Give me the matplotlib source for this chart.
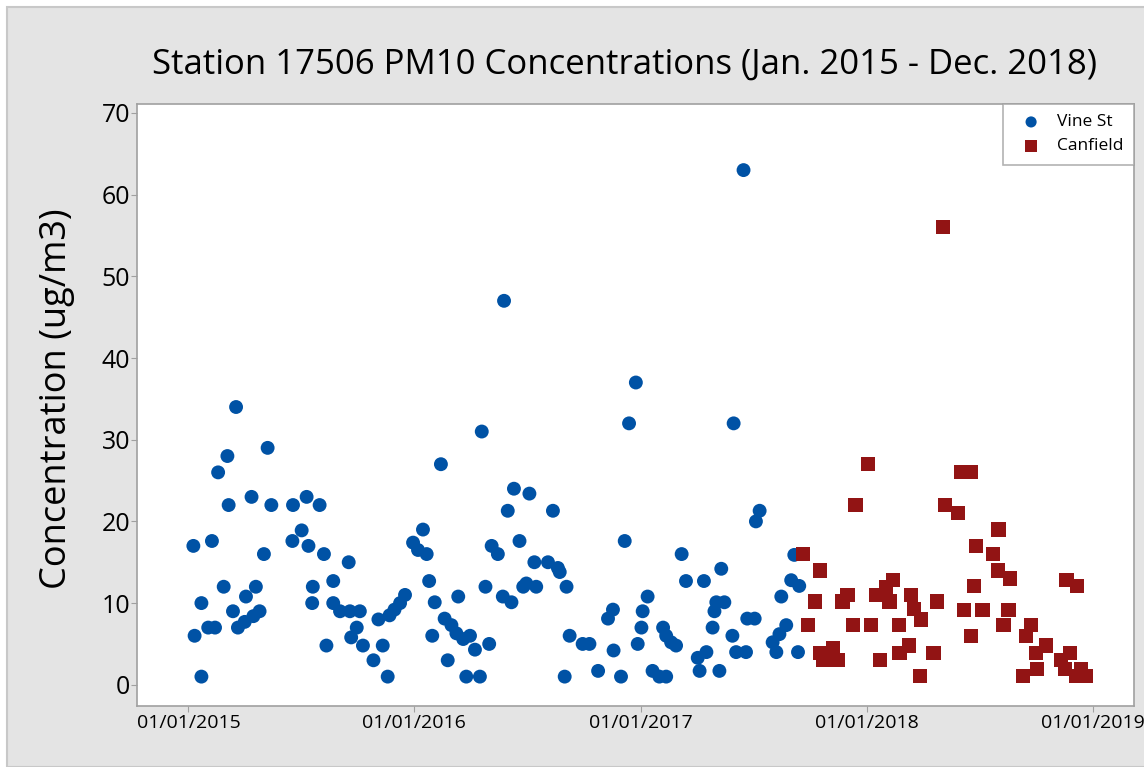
import matplotlib
matplotlib.use("Agg")
import matplotlib.pyplot as plt
import matplotlib.dates as mdates
import pandas as pd
from matplotlib.patches import Rectangle

# days after 01/01/2015 and PM10 value (ug/m3)
vine_days = [8, 10, 21, 21, 32, 38, 43, 48, 57, 63, 65, 72, 77, 80, 91, 93,
             102, 105, 109, 115, 122, 128, 134, 168, 169, 183, 191, 194, 200,
             201, 212, 219, 223, 234, 234, 245, 259, 261, 263, 272, 277, 282,
             299, 307, 314, 322, 325, 333, 342, 350, 363, 371, 379, 385, 389,
             394, 398, 408, 414, 419, 425, 433, 436, 444, 449, 455, 463, 471,
             474, 480, 486, 490, 500, 508, 510, 516, 522, 526, 535, 541, 546,
             551, 559, 562, 581, 589, 597, 600, 608, 611, 616, 637, 648, 662,
             678, 686, 687, 705, 699, 712, 723, 726, 732, 734, 742, 750, 761,
             767, 772, 772, 780, 788, 797, 804, 823, 826, 833, 837, 847, 850,
             853, 858, 861, 866, 879, 881, 885, 897, 901, 903, 915, 917, 923,
             944, 950, 955, 958, 966, 974, 979, 985, 987]
vine_vals = [17, 6, 1, 10, 7, 17.6, 7, 26, 12, 28, 22, 9, 34, 7, 7.7, 10.8,
             23, 8.4, 12, 9, 16, 29, 22, 17.6, 22, 18.9, 23, 17, 10,
             12, 22, 16, 4.8, 12.7, 10, 9, 15, 9, 5.8, 7, 9, 4.8,
             3, 8, 4.8, 1, 8.5, 9.2, 10, 11, 17.4, 16.5, 19, 16, 12.7,
             6, 10.1, 27, 8.1, 3, 7.3, 6.3, 10.8, 5.6, 1, 6, 4.3, 1,
             31, 12, 5, 17, 16, 10.8, 47, 21.3, 10.1, 24, 17.6, 12, 12.4,
             23.4, 15, 12, 15, 21.3, 14.3, 13.8, 1, 12, 6, 5, 5, 1.7,
             8.1, 9.2, 4.2, 17.6, 1, 32, 37, 5, 7, 9, 10.8, 1.7, 1,
             7, 6, 1, 5.2, 4.8, 16, 12.7, 3.3, 1.7, 12.7, 4, 7, 9,
             10.1, 1.7, 14.2, 10.1, 6, 32, 4, 63, 4, 8.1, 8.1, 20, 21.3,
             5.2, 4, 6.2, 10.8, 7.3, 12.8, 15.9, 4, 12.1]

canf_days = [993, 1001, 1012, 1020, 1020, 1025, 1039, 1041, 1049, 1057, 1065,
             1074, 1078, 1098, 1103, 1111, 1118, 1127, 1133, 1138, 1148, 1149,
             1164, 1168, 1173, 1182, 1184, 1204, 1210, 1219, 1223, 1244, 1249,
             1253, 1264, 1265, 1269, 1273, 1283, 1300, 1308, 1309, 1317, 1325,
             1328, 1348, 1354, 1362, 1370, 1371, 1386, 1410, 1417, 1419, 1425,
             1434, 1436, 1442, 1450]
canf_vals = [16, 7.3, 10.2, 14, 3.9, 3, 3, 4.5, 3, 10.2, 11,
             7.3, 22, 27, 7.3, 11, 3, 12, 10.2, 12.8, 7.3, 3.9,
             4.8, 11, 9.3, 1.1, 8, 3.9, 10.2, 56, 22, 21, 26,
             9.2, 6, 26, 12.1, 17, 9.2, 16, 14, 19, 7.3, 9.2,
             13, 1.1, 6, 7.3, 3.9, 1.9, 4.8, 3, 1.9, 12.8, 3.9,
             1.1, 12.1, 1.9, 1.1]

year_ticks = ["2015-01-01", "2016-01-01", "2017-01-01", "2018-01-01", "2019-01-01"]

start = pd.Timestamp("2015-01-01")
vine_dates = start + pd.to_timedelta(vine_days, unit="D")
canf_dates = start + pd.to_timedelta(canf_days, unit="D")

plt.rcParams["font.family"] = ["Open Sans", "DejaVu Sans"]

fig = plt.figure(figsize=(11.44, 7.67), dpi=100)
fig.patch.set_facecolor("white")
# grey panel behind the whole graph
bg = Rectangle((7 / 1144, 0), 1.0, 1 - 7 / 767, transform=fig.transFigure,
               facecolor="#E4E4E4", edgecolor="#C8C8C8", linewidth=1.5, zorder=-10)
fig.add_artist(bg)

ax = fig.add_axes([0.1198, 0.0795, 0.8715, 0.785])
ax.set_facecolor("white")

ax.scatter(vine_dates, vine_vals, marker="o", s=100, color="#0052A5",
           edgecolors="none", label="Vine St", zorder=3)
ax.scatter(canf_dates, canf_vals, marker="s", s=105, color="#921414",
           edgecolors="none", label="Canfield", zorder=3)

ax.set_xlim(start - pd.Timedelta(days=83), start + pd.Timedelta(days=1528))
ax.set_ylim(-2.6, 71.1)
ax.set_yticks(range(0, 71, 10))
ax.set_xticks(pd.to_datetime(year_ticks))
ax.xaxis.set_major_formatter(mdates.DateFormatter("%m/%d/%Y"))

for sp in ax.spines.values():
    sp.set_color("#A0A0A0")
    sp.set_linewidth(1.2)
ax.tick_params(axis="y", labelsize=18, color="#A0A0A0", length=4, pad=1)
ax.tick_params(axis="x", labelsize=14, color="#A0A0A0", length=4, pad=2)

ax.set_ylabel("Concentration (ug/m3)", fontsize=26)
ax.yaxis.set_label_coords(-0.062, 0.51)
fig.suptitle("Station 17506 PM10 Concentrations (Jan. 2015 - Dec. 2018)",
             fontsize=25, x=0.546, y=0.938)

leg = ax.legend(loc="upper right", fontsize=12.5, frameon=True, fancybox=False,
                borderaxespad=0, handletextpad=0.5, markerscale=0.8,
                borderpad=0.6, labelspacing=0.45)
leg.get_frame().set_edgecolor("#A0A0A0")
leg.get_frame().set_linewidth(1.2)

fig.savefig("out.png", dpi=100)
